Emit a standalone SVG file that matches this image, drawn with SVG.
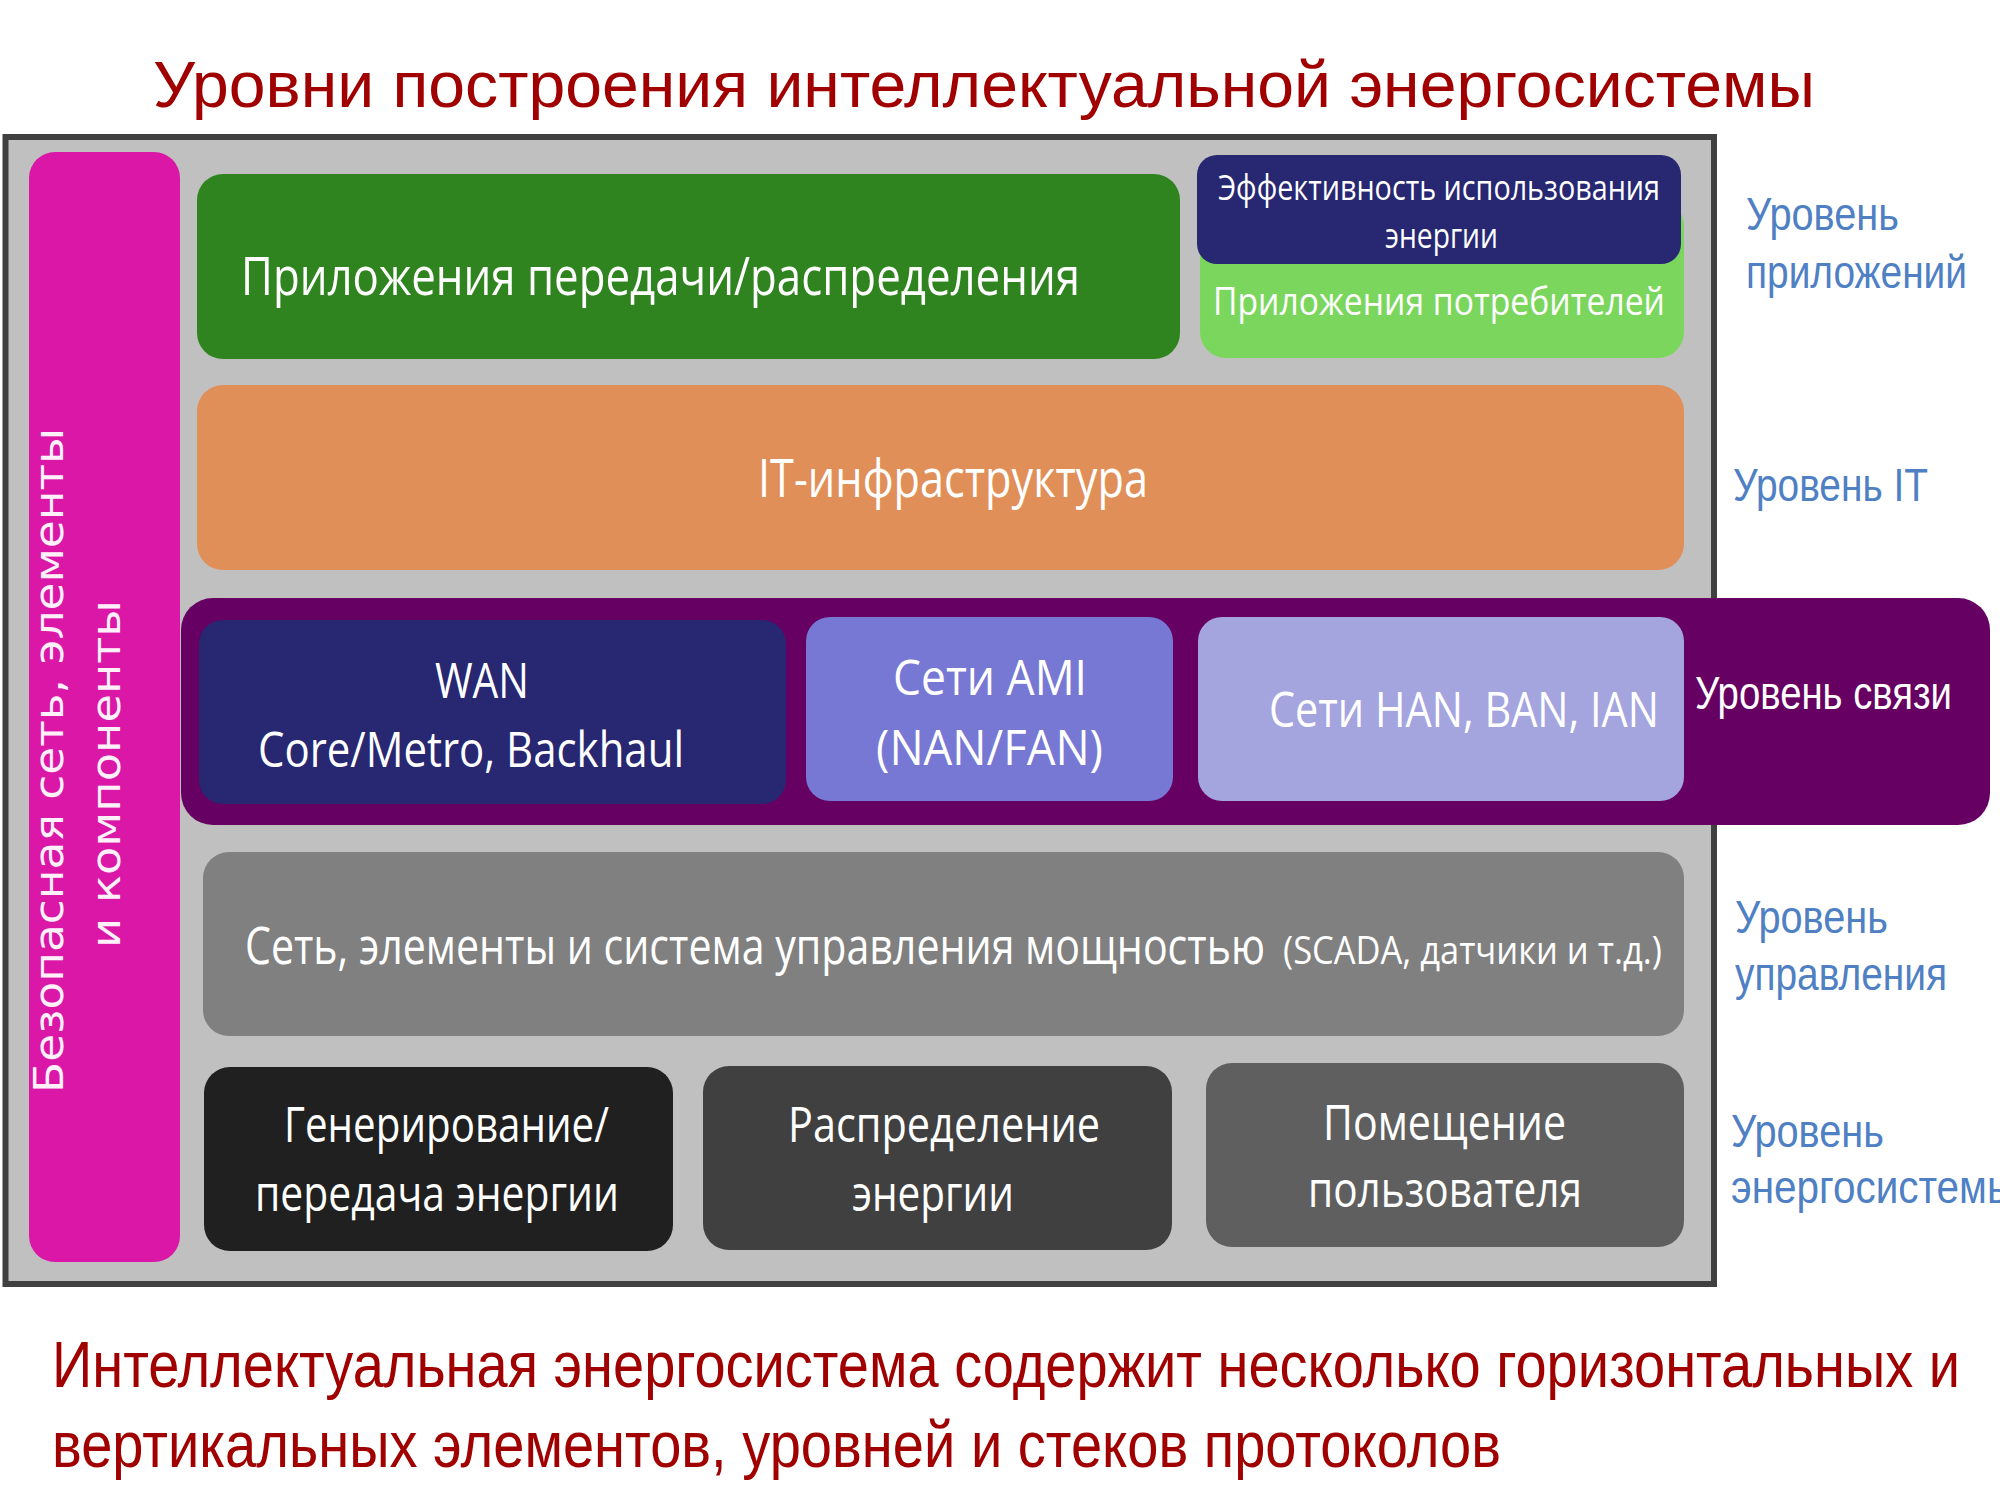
<svg xmlns="http://www.w3.org/2000/svg" width="2000" height="1500" viewBox="0 0 2000 1500">
<style>
.cal{font-family:"Open Sans","Noto Sans","DejaVu Sans",sans-serif;fill:#ffffff}
.nar{font-family:"Liberation Sans Narrow","Liberation Sans",Arial,sans-serif}
.red{fill:#a00000;font-size:64px}
.lvl{fill:#4f80c4;font-size:46px}
.vert{font-family:"DejaVu Sans","Verdana",sans-serif;fill:#fff0fa;font-size:41px}
</style>
<rect width="2000" height="1500" fill="#ffffff"/>
<text class="nar red" x="153" y="107" textLength="1662" lengthAdjust="spacingAndGlyphs">Уровни построения интеллектуальной энергосистемы</text>
<g id="frame"><rect x="5.5" y="137" width="1708.5" height="1147" fill="#c0c0c0" stroke="#404040" stroke-width="6"/></g>
<g id="security">
<rect x="29" y="152" width="151" height="1110" rx="26" fill="#da17a6"/>
<text class="vert" transform="translate(63,1093) rotate(-90)" x="0" y="0" textLength="665" lengthAdjust="spacingAndGlyphs">Безопасная сеть, элементы</text>
<text class="vert" transform="translate(120,948) rotate(-90)" x="0" y="0" textLength="348" lengthAdjust="spacingAndGlyphs">и компоненты</text>
</g>
<g id="transmission-apps">
<rect x="197" y="174" width="983" height="185" rx="26" fill="#30841f"/>
<text class="cal" x="241" y="295" font-size="53" textLength="839" lengthAdjust="spacingAndGlyphs">Приложения передачи/распределения</text>
</g>
<g id="consumer-apps">
<rect x="1200" y="200" width="484" height="158" rx="26" fill="#7bd65d"/>
<text class="cal" x="1213" y="315" font-size="38" fill="#f2fff0" textLength="452" lengthAdjust="spacingAndGlyphs">Приложения потребителей</text>
</g>
<g id="energy-efficiency">
<rect x="1197" y="155" width="484" height="109" rx="20" fill="#272772"/>
<text class="cal" x="1218" y="200" font-size="35" textLength="442" lengthAdjust="spacingAndGlyphs">Эффективность использования</text>
<text class="cal" x="1385" y="248" font-size="35" textLength="113" lengthAdjust="spacingAndGlyphs">энергии</text>
</g>
<g id="it-infra">
<rect x="197" y="385" width="1487" height="185" rx="26" fill="#e18f59"/>
<text class="cal" x="758" y="497" font-size="53" fill="#fbf0e8" textLength="390" lengthAdjust="spacingAndGlyphs">IT-инфраструктура</text>
</g>
<g id="comm-level">
<rect x="181" y="598" width="1809" height="227" rx="32" fill="#660062"/>
<text class="nar" x="1695" y="709" font-size="46" fill="#ffffff" textLength="257" lengthAdjust="spacingAndGlyphs">Уровень связи</text>
</g>
<g id="wan">
<rect x="199" y="620" width="587" height="184" rx="24" fill="#272772"/>
<text class="cal" x="435" y="698" font-size="50" textLength="94" lengthAdjust="spacingAndGlyphs">WAN</text>
<text class="cal" x="258" y="767" font-size="50" textLength="426" lengthAdjust="spacingAndGlyphs">Core/Metro, Backhaul</text>
</g>
<g id="ami">
<rect x="806" y="617" width="367" height="184" rx="24" fill="#7777d4"/>
<text class="cal" x="893" y="695" font-size="50" fill="#eeeeff" textLength="194" lengthAdjust="spacingAndGlyphs">Сети AMI</text>
<text class="cal" x="876" y="765" font-size="50" fill="#eeeeff" textLength="227" lengthAdjust="spacingAndGlyphs">(NAN/FAN)</text>
</g>
<g id="han">
<rect x="1198" y="617" width="486" height="184" rx="24" fill="#a4a4df"/>
<text class="cal" x="1269" y="727" font-size="49" fill="#f0f0ff" textLength="390" lengthAdjust="spacingAndGlyphs">Сети HAN, BAN, IAN</text>
</g>
<g id="control">
<rect x="203" y="852" width="1481" height="184" rx="26" fill="#808080"/>
<text class="cal" x="245" y="964" font-size="52" fill="#f4f4f4" textLength="1020" lengthAdjust="spacingAndGlyphs">Сеть, элементы и система управления мощностью</text>
<text class="cal" x="1283" y="964" font-size="38" fill="#f4f4f4" textLength="379" lengthAdjust="spacingAndGlyphs">(SCADA, датчики и т.д.)</text>
</g>
<g id="generation">
<rect x="204" y="1067" width="469" height="184" rx="26" fill="#202020"/>
<text class="cal" x="284" y="1142" font-size="49" textLength="325" lengthAdjust="spacingAndGlyphs">Генерирование/</text>
<text class="cal" x="255" y="1211" font-size="49" textLength="364" lengthAdjust="spacingAndGlyphs">передача энергии</text>
</g>
<g id="distribution">
<rect x="703" y="1066" width="469" height="184" rx="26" fill="#404040"/>
<text class="cal" x="788" y="1142" font-size="49" textLength="312" lengthAdjust="spacingAndGlyphs">Распределение</text>
<text class="cal" x="852" y="1211" font-size="49" textLength="162" lengthAdjust="spacingAndGlyphs">энергии</text>
</g>
<g id="premises">
<rect x="1206" y="1063" width="478" height="184" rx="26" fill="#5f5f5f"/>
<text class="cal" x="1323" y="1140" font-size="49" textLength="243" lengthAdjust="spacingAndGlyphs">Помещение</text>
<text class="cal" x="1308" y="1207" font-size="49" textLength="274" lengthAdjust="spacingAndGlyphs">пользователя</text>
</g>
<g id="level-labels">
<text class="nar lvl" x="1746" y="230" textLength="153" lengthAdjust="spacingAndGlyphs">Уровень</text>
<text class="nar lvl" x="1746" y="288" textLength="221" lengthAdjust="spacingAndGlyphs">приложений</text>
<text class="nar lvl" x="1733" y="501" textLength="195" lengthAdjust="spacingAndGlyphs">Уровень IT</text>
<text class="nar lvl" x="1735" y="933" textLength="153" lengthAdjust="spacingAndGlyphs">Уровень</text>
<text class="nar lvl" x="1735" y="990" textLength="212" lengthAdjust="spacingAndGlyphs">управления</text>
<text class="nar lvl" x="1731" y="1147" textLength="153" lengthAdjust="spacingAndGlyphs">Уровень</text>
<text class="nar lvl" x="1731" y="1203" textLength="285" lengthAdjust="spacingAndGlyphs">энергосистемы</text>
</g>
<text class="nar red" x="52" y="1387" textLength="1908" lengthAdjust="spacingAndGlyphs">Интеллектуальная энергосистема содержит несколько горизонтальных и</text>
<text class="nar red" x="52" y="1467" textLength="1449" lengthAdjust="spacingAndGlyphs">вертикальных элементов, уровней и стеков протоколов</text>
</svg>
